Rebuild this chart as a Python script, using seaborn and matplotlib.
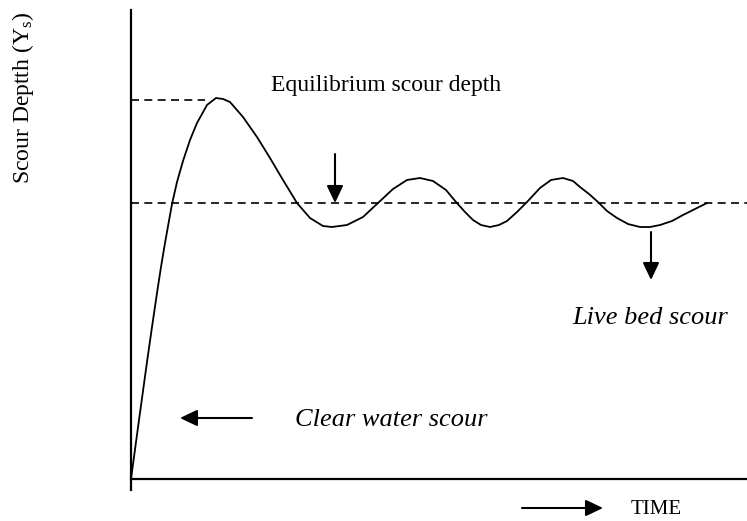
import numpy as np
import pandas as pd
import matplotlib
matplotlib.use("Agg")
import matplotlib.pyplot as plt
import seaborn as sns

# --- data (time units, scour depth units) ---
time = [0, 8, 16, 21, 26, 30, 34, 41, 46, 52, 59, 66, 76, 85, 92, 99, 112,
        126, 139, 152, 166, 179, 192, 201, 216, 232, 247, 262, 276, 289, 302,
        315, 325, 334, 342, 350, 359, 368, 376, 386, 396, 409, 420, 432, 442,
        449, 458, 467, 476, 486, 497, 509, 519, 529, 541, 552, 564, 576]
depth = [0, 59, 117, 152, 186, 212, 236, 275, 297, 318, 339, 356, 374, 381,
         380, 377, 362, 342, 321, 299, 276, 261, 253, 252, 254, 262, 276, 290,
         299, 301, 298, 289, 277, 267, 259, 254, 252, 254, 258, 267, 277, 291,
         299, 301, 298, 292, 285, 277, 268, 261, 255, 252, 252, 254, 258, 264,
         270, 276]
eq_level = 276      # equilibrium scour depth (dashed)
peak_level = 379    # initial peak (dashed)
peak_line_end = 74

sns.set_style("white")
plt.rcParams["font.family"] = ["Liberation Serif", "DejaVu Serif"]
plt.rcParams["mathtext.fontset"] = "custom"
plt.rcParams["mathtext.rm"] = "Liberation Serif"
plt.rcParams["mathtext.it"] = "Liberation Serif:italic"
plt.rcParams["text.color"] = "black"

fig = plt.figure(figsize=(7.47, 5.21), dpi=100)
W, H = 747, 521
ax = fig.add_axes([131 / W, (H - 490) / H, (W - 131) / W, (490 - 10) / H])

df = pd.DataFrame({"time": time, "depth": depth})
sns.lineplot(data=df, x="time", y="depth", ax=ax, color="black", lw=1.3,
             sort=False, estimator=None)

ax.plot([0, 616], [eq_level, eq_level], color="black", lw=1.2,
        dashes=(4.8, 3.2))
ax.plot([0, peak_line_end], [peak_level, peak_level], color="black", lw=1.2,
        dashes=(4.8, 3.2))

ax.set_xlim(0, 616)
ax.set_ylim(-11, 469)
ax.spines["top"].set_visible(False)
ax.spines["right"].set_visible(False)
ax.spines["bottom"].set_position(("data", 0))
for s in ("left", "bottom"):
    ax.spines[s].set_linewidth(1.6)
    ax.spines[s].set_color("black")
ax.set_xticks([])
ax.set_yticks([])
ax.set_xlabel("")
ax.set_ylabel("")

ap = dict(arrowstyle="-|>,head_length=1.05,head_width=0.5", color="black",
          lw=1.5, shrinkA=0, shrinkB=0)
ax.annotate("", xy=(204, 276), xytext=(204, 325), arrowprops=ap)
ax.annotate("", xy=(520, 199), xytext=(520, 247), arrowprops=ap)
ax.annotate("", xy=(49, 61), xytext=(121, 61), arrowprops=ap)
ax.annotate("", xy=(472, -29), xytext=(391, -29), arrowprops=ap,
            annotation_clip=False)

ax.text(255, 394, "Equilibrium scour depth", fontsize=17, ha="center",
        va="center", color="black")
ax.text(260, 59, "Clear water scour", fontsize=19, style="italic",
        ha="center", va="center", color="black")
ax.text(519, 161, "Live bed scour", fontsize=19, style="italic",
        ha="center", va="center", color="black")
ax.text(525, -31, "TIME", fontsize=15, ha="center", va="center",
        clip_on=False, color="black")

fig.text(23 / W, 1 - 98 / H, r"Scour Deptth (Y$_{\mathrm{s}}$)", fontsize=17,
         rotation=90, ha="center", va="center", color="black")

fig.savefig("out.png", dpi=100)
